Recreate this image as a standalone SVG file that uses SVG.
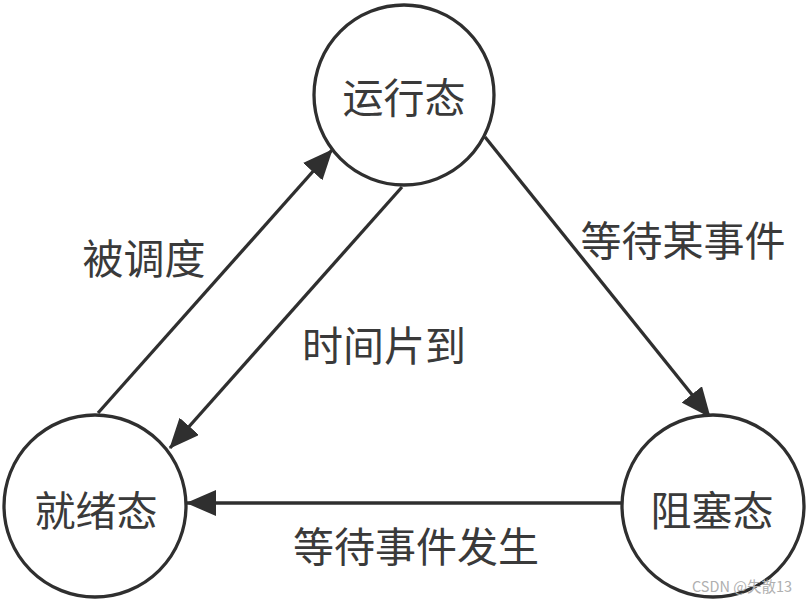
<svg xmlns="http://www.w3.org/2000/svg" width="807" height="603" viewBox="0 0 807 603">
<style>
.node{fill:#fff;stroke:#2f2f2f;stroke-width:3.3}
.lbl{font-family:"Noto Sans CJK SC","Noto Sans",sans-serif;font-size:41px;fill:#3a3a3a;text-anchor:middle;dominant-baseline:central}
.edge{stroke:#2f2f2f;stroke-width:3.3;fill:none;marker-end:url(#arr)}
.wm{font-family:"Noto Sans CJK SC","Liberation Sans",sans-serif;font-size:14.5px;fill:#b0b0b0}
</style>
<defs>
<marker id="arr" viewBox="0 0 30 26" markerWidth="30" markerHeight="26" refX="29" refY="13" orient="auto" markerUnits="userSpaceOnUse">
<path d="M0,0 L30,13 L0,26 Z" fill="#2f2f2f"/>
</marker>
</defs>
<rect width="807" height="603" fill="#fff"/>
<g id="connectors">
<line class="edge" x1="98" y1="413" x2="332" y2="150"/>
<line class="edge" x1="402" y1="187" x2="170" y2="448"/>
<line class="edge" x1="485" y1="137" x2="710" y2="417"/>
<line class="edge" x1="622" y1="503" x2="187" y2="503"/>
<text class="lbl" x="144" y="256">被调度</text>
<text class="lbl" x="384" y="343">时间片到</text>
<text class="lbl" x="683" y="238">等待某事件</text>
<text class="lbl" x="416" y="544">等待事件发生</text>
</g>
<g id="running">
<circle class="node" cx="404" cy="95" r="90"/>
<text class="lbl" x="404" y="95">运行态</text>
</g>
<g id="ready">
<circle class="node" cx="95" cy="506" r="91"/>
<text class="lbl" x="96" y="508">就绪态</text>
</g>
<g id="blocked">
<circle class="node" cx="713" cy="506" r="91"/>
<text class="lbl" x="712" y="508">阻塞态</text>
</g>
<text class="wm" x="692" y="592">CSDN @失散13</text>
</svg>
